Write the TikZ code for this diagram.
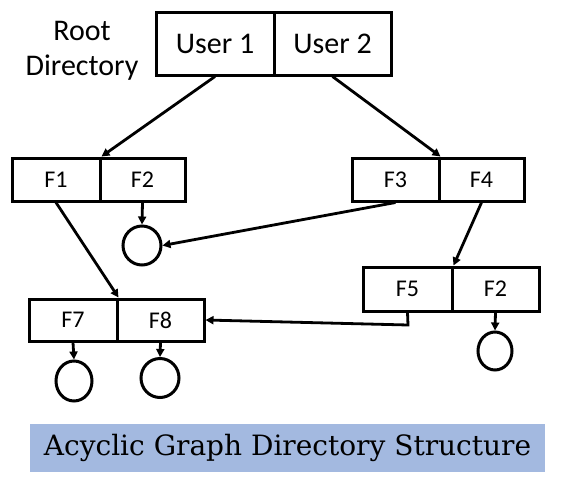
\documentclass[tikz,border=0pt]{standalone}
\usepackage{fontspec}
\setmainfont{Carlito}
\newfontfamily\titlefont{DejaVu Serif}
\usetikzlibrary{arrows.meta,shapes.geometric}
\definecolor{titlebg}{HTML}{A3B9E0}
\tikzset{
  cell/.style={draw, line width=3pt, rectangle, inner sep=0pt, font=\fontsize{24}{26}\selectfont},
  ucell/.style={cell, minimum height=63pt, font=\fontsize{30}{32}\selectfont},
  fcell/.style={cell, minimum height=43pt},
  leaf/.style={draw, line width=3pt, ellipse, inner sep=0pt},
  conn/.style={line width=2.8pt, -{Triangle[length=8pt,width=8pt]}},
  plain/.style={font=\fontsize{30}{32}\selectfont, inner sep=0pt}
}
\begin{document}
\begin{tikzpicture}[x=1pt,y=-1pt]
\useasboundingbox (0,0) rectangle (568,482);
% root
\node[plain] (root1) at (82,31) {Root};
\node[plain] (root2) at (82,68) {Directory};
\node[ucell, minimum width=118pt] (u1) at (215,43.5) {User 1};
\node[ucell, minimum width=117pt] (u2) at (332.5,43.5) {User 2};
% level 1
\node[fcell, minimum width=88pt] (f1) at (56,179.5) {F1};
\node[fcell, minimum width=85pt] (f2) at (142.5,179.5) {F2};
\node[fcell, minimum width=87pt] (f3) at (395.5,179.5) {F3};
\node[fcell, minimum width=85pt] (f4) at (481.5,179.5) {F4};
% level 2
\node[fcell, minimum width=89pt, minimum height=44pt] (f5) at (407.5,289) {F5};
\node[fcell, minimum width=87pt, minimum height=44pt] (f2b) at (495.5,289) {F2};
\node[fcell, minimum width=88pt, minimum height=42pt] (f7) at (73,320) {F7};
\node[fcell, minimum width=87pt, minimum height=42pt] (f8) at (160.5,320) {F8};
% leaves
\node[leaf, minimum width=38pt, minimum height=39pt] (c1) at (142,245.5) {};
\node[leaf, minimum width=34pt, minimum height=38pt] (c2) at (495,351) {};
\node[leaf, minimum width=36pt, minimum height=40pt] (c3) at (74,381) {};
\node[leaf, minimum width=38pt, minimum height=39pt] (c4) at (160,378) {};
% connectors
\draw[conn] (u1.south) -- (f1.north east);
\draw[conn] (u2.south) -- (f3.north east);
\draw[conn] (f1.south) -- (f7.north east);
\draw[conn] (f2.south) -- (c1.north);
\draw[conn] (f3.south) -- (c1.east);
\draw[conn] (f4.south) -- (f5.north east);
\coordinate (bend) at (408,325);
\draw[conn] (f5.south) -- (bend) -- (f8.east);
\draw[conn] (f2b.south) -- (c2.north);
\draw[conn] (f7.south) -- (c3.north);
\draw[conn] (f8.south) -- (c4.north);
% title
\node[fill=titlebg, minimum width=515pt, minimum height=48pt, inner sep=0pt,
      font=\titlefont\fontsize{28}{30}\selectfont] (title) at (287.5,448) {Acyclic Graph Directory Structure};
\end{tikzpicture}
\end{document}
